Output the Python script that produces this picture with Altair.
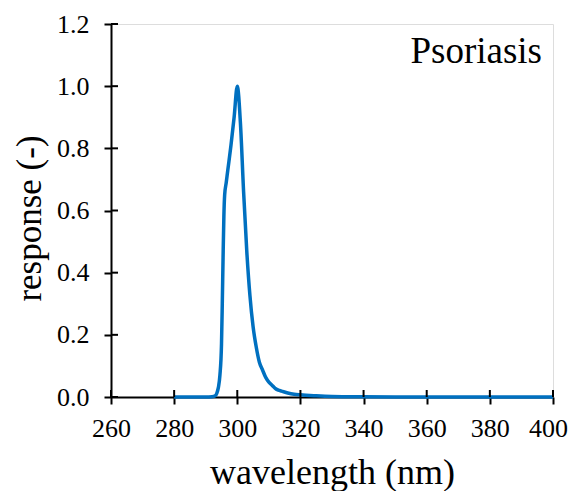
import altair as alt
import pandas as pd

wavelength = [280, 285, 290, 292, 293, 293.5, 294, 294.5, 295, 295.25, 295.5, 295.75,
              296, 296.5, 297, 298, 299, 300, 301, 302, 303, 304, 305, 306, 307, 308,
              309, 310, 311, 312, 313, 314, 316, 318, 320, 325, 330, 340, 350, 400]
response = [0, 0, 0, 0.001, 0.004, 0.012, 0.03, 0.07, 0.17, 0.3, 0.45, 0.58,
            0.65, 0.69, 0.73, 0.81, 0.9, 1.0, 0.88, 0.66, 0.47, 0.327, 0.227, 0.161, 0.112, 0.087,
            0.063, 0.048, 0.038, 0.028, 0.022, 0.019, 0.013, 0.009, 0.007, 0.004, 0.002, 0.0008, 0.0003, 0]

x_ticks = [260, 280, 300, 320, 340, 360, 380, 400]
y_ticks = [0.0, 0.2, 0.4, 0.6, 0.8, 1.0, 1.2]
label_text = "Psoriasis"

W, H = 442, 373
FONT = "Liberation Serif"
BLUE = "#0070C0"

df = pd.DataFrame({"wavelength": wavelength, "response": response})
xt = pd.DataFrame({"t": x_ticks})
yt = pd.DataFrame({"t": y_ticks})

xscale = alt.Scale(domain=[260, 400], nice=False, zero=False)
yscale = alt.Scale(domain=[0, 1.2], nice=False)

line = alt.Chart(df).mark_line(color=BLUE, strokeWidth=3.5, interpolate="monotone").encode(
    x=alt.X("wavelength:Q", scale=xscale,
            axis=alt.Axis(title="wavelength (nm)", values=x_ticks, format="d",
                          grid=False, tickSize=7, tickWidth=2, domainWidth=2,
                          domainColor="black", tickColor="black",
                          labelFont=FONT, labelFontSize=26, labelColor="black",
                          labelPadding=11, labelFlush=False,
                          labelOffset={"condition": {"test": "datum.value == 400", "value": -5},
                                       "value": 0},
                          titleFont=FONT, titleFontSize=36, titleFontWeight="normal",
                          titleColor="black", titleBaseline="alphabetic",
                          titleX=W / 2, titleY=86, titleAlign="center")),
    y=alt.Y("response:Q", scale=yscale,
            axis=alt.Axis(title="response (-)", values=y_ticks, format=".1f",
                          grid=False, tickSize=7, tickWidth=2, domainWidth=2,
                          domainColor="black", tickColor="black",
                          labelFont=FONT, labelFontSize=26, labelColor="black",
                          labelPadding=15, labelFlush=False,
                          titleFont=FONT, titleFontSize=35, titleFontWeight="normal",
                          titleColor="black", titleAngle=-90, titleBaseline="alphabetic",
                          titleAlign="center", titleX=-71, titleY=194)),
)

xin = alt.Chart(xt).mark_rule(color="black", strokeWidth=2).encode(
    x=alt.X("t:Q", scale=xscale), y=alt.value(H), y2=alt.value(H - 7))
yin = alt.Chart(yt).mark_rule(color="black", strokeWidth=2).encode(
    y=alt.Y("t:Q", scale=yscale), x=alt.value(0), x2=alt.value(7))

label = alt.Chart(pd.DataFrame({"txt": [label_text]})).mark_text(
    font=FONT, fontSize=37, align="right", baseline="alphabetic", color="black"
).encode(text="txt:N", x=alt.value(431), y=alt.value(39))

chart = alt.layer(line, xin, yin, label).properties(
    width=W, height=H,
    autosize=alt.AutoSizeParams(type="none"),
    padding={"left": 103, "top": 16, "right": 15, "bottom": 94},
).configure_view(stroke=None).configure(background="white", font=FONT)

chart.save("out.html", embed_options={"renderer": "svg", "actions": False})
